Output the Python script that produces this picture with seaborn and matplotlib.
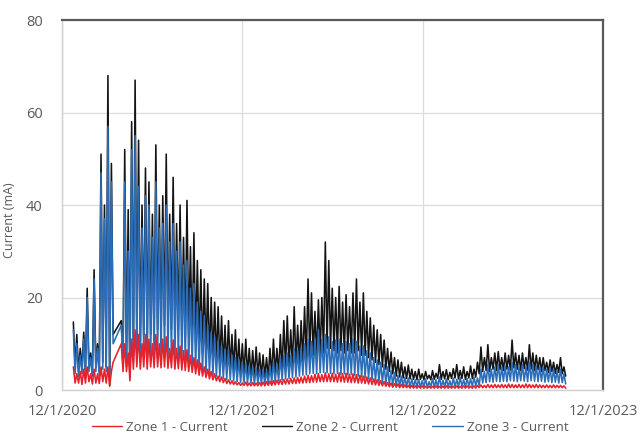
import numpy as np
import pandas as pd
import matplotlib
matplotlib.use("Agg")
import matplotlib.pyplot as plt
import seaborn as sns

# ---- data: weekly peak / trough readings (mA) ----
# winter segment (weekly from 2020-12-24)
seg_a_start = "2020-12-24"
zone2_hi_a = [14.7, 12, 9, 12.5, 22, 8, 26, 10, 51, 40, 68, 49]
zone2_lo_a = [5, 4, 4.5, 4, 5, 3.5, 5, 4, 6, 5, 1, 12]
zone3_hi_a = [13, 10, 7.5, 11, 20, 7, 24, 9, 47, 37, 57, 45]
zone3_lo_a = [3.5, 3, 3.5, 3, 4, 3, 4, 3, 4.5, 4, 2, 10]
zone1_hi_a = [5, 3.5, 4, 4.5, 5, 3.5, 4.5, 3.5, 5, 4.5, 5, 4]
zone1_lo_a = [1.5, 1.5, 1.2, 1.5, 1.8, 1.3, 1.5, 1.4, 1.8, 1.5, 0.8, 6]

# main segment (weekly from 2021-03-31)
seg_b_start = "2021-03-31"
zone2_hi_b = [15, 52, 39, 58, 67, 54, 40, 48, 45, 38,
              53, 40, 42, 51, 38, 46, 36, 40, 33, 41,
              31, 34, 28, 26, 24, 23, 20, 19, 18, 16,
              14, 15, 12, 13, 11, 10, 11, 9, 8.5, 9.3,
              8, 7.6, 7, 9, 11, 9, 12, 15, 16, 13,
              18, 14, 15, 18, 24, 21, 17, 19.5, 20, 32,
              28, 22, 20, 22.4, 19, 20.6, 18, 21, 24, 19,
              21, 17, 15.6, 14, 13, 12, 10.8, 9, 8.2, 7,
              6.5, 6, 5, 5.4, 4.5, 4, 4.5, 3.5, 4, 3.2,
              4.2, 3.6, 5.5, 4, 4.4, 3.8, 4.6, 5.5, 4.2, 5,
              4, 5.2, 4.5, 6, 9.3, 7, 9.8, 7, 8, 8.3,
              7, 8, 7.5, 10.8, 8, 7.5, 8, 7, 9.8, 8,
              7.5, 7, 7, 6, 6.5, 6, 5.5, 7, 5]
zone2_lo_b = [6, 6, 3, 8, 10, 9, 12, 10, 12, 11,
              13, 12, 14, 12, 13, 12, 13, 12, 11, 12,
              10, 10, 9, 8, 8, 7, 6.5, 6, 5.5, 5,
              4.5, 4.5, 4, 4, 3.5, 3.5, 3.2, 3, 3, 3,
              2.8, 2.8, 2.6, 3, 3.5, 3.5, 4, 4.5, 5, 5,
              5.5, 5.5, 6, 6.5, 7, 7.5, 7, 7.5, 8, 9,
              9, 8.5, 8, 8.5, 8, 8.5, 8, 8, 8.5, 7.5,
              7.5, 7, 6.5, 6, 5.5, 5, 4.5, 4, 3.5, 3,
              2.8, 2.6, 2.5, 2.4, 2.3, 2.2, 2.3, 2.2, 2.4, 2.2,
              2.3, 2.5, 2.3, 2.4, 2.2, 2.5, 2.6, 2.4, 2.5, 2.3,
              2.6, 2.5, 2.8, 3.5, 4, 4.2, 4, 4.5, 4.2, 4.4,
              4.2, 4.5, 4.3, 4.8, 4.5, 4.2, 4.6, 4.3, 4.5, 4.2,
              4.4, 4, 4.2, 3.8, 4, 3.6, 3.8, 3.5, 3]
zone3_hi_b = [14, 45, 30, 52, 55, 44, 35, 42, 40, 33,
              45, 35, 36, 40, 32, 36, 30, 32, 27, 28,
              22, 23, 19, 17, 16, 14, 12.5, 11.5, 10.5, 9.5,
              8.7, 8.7, 7.5, 7, 6.5, 6, 5.8, 5.2, 5, 4.8,
              4.5, 4.3, 4.2, 5, 6, 5.5, 7, 7.5, 8, 7.5,
              9, 8.5, 9, 10, 11, 10.5, 11, 13, 11, 12,
              11.5, 10.5, 10.8, 11, 10, 10.5, 10, 11, 10.5, 9.5,
              9.5, 8.5, 8, 7, 6.5, 6, 5.5, 5, 4.2, 3.8,
              3.2, 3, 2.8, 2.6, 2.4, 2.2, 2.3, 2, 2.4, 1.8,
              2.5, 2.2, 2.8, 2.1, 2.4, 2, 2.6, 2.3, 2.7, 2.2,
              2.5, 2.4, 2.8, 2.6, 4.5, 4, 5.5, 4.5, 5, 5.5,
              5, 5.2, 5, 6, 5.5, 5, 5.5, 5, 6, 5.5,
              5.2, 5, 5, 4.5, 4.8, 4.5, 4.2, 4.5, 3.5]
zone3_lo_b = [5, 5, 2.5, 6, 7, 6, 7, 6.5, 7, 6.5,
              7, 6.5, 7, 6.5, 6.5, 6, 6, 5.5, 5.5, 5,
              5, 4.5, 4.2, 4, 3.8, 3.5, 3.2, 3, 2.8, 2.5,
              2.3, 2.2, 2, 1.8, 1.7, 1.6, 1.5, 1.5, 1.4, 1.4,
              1.4, 1.3, 1.4, 1.6, 1.8, 2, 2.2, 2.4, 2.5, 2.7,
              2.8, 3, 3.2, 3.3, 3.5, 3.6, 3.5, 3.7, 3.8, 3.7,
              3.6, 3.5, 3.6, 3.4, 3.5, 3.3, 3.4, 3.2, 3, 2.8,
              2.6, 2.4, 2.2, 2, 1.8, 1.6, 1.4, 1.2, 1.1, 1,
              0.9, 0.8, 0.8, 0.7, 0.7, 0.7, 0.6, 0.7, 0.6, 0.7,
              0.6, 0.7, 0.6, 0.7, 0.7, 0.6, 0.7, 0.7, 0.8, 0.7,
              0.8, 0.8, 0.9, 1, 1.5, 1.6, 1.8, 1.7, 1.9, 1.8,
              1.9, 1.8, 2, 1.9, 1.8, 2, 1.9, 1.8, 2, 1.9,
              1.8, 1.9, 1.7, 1.8, 1.6, 1.7, 1.5, 1.6, 1.3]
zone1_hi_b = [10, 10, 8, 11, 13, 12, 10, 12, 11, 10,
              12, 10, 11, 11.5, 9, 10.8, 9, 9.5, 8.5, 8.7,
              7.5, 7, 6.5, 5.8, 5, 4.5, 4, 3.5, 3, 2.8,
              2.5, 2.2, 2, 1.8, 1.6, 1.5, 1.7, 1.5, 1.6, 1.5,
              1.6, 1.7, 1.8, 1.9, 2, 2.1, 2.2, 2.3, 2.4, 2.5,
              2.6, 2.7, 2.8, 3, 3.2, 3.1, 3.4, 3.5, 3.3, 3.7,
              3.5, 3.6, 3.4, 3.7, 3.5, 3.6, 3.4, 3.5, 3.3, 3.2,
              3, 2.8, 2.6, 2.4, 2.2, 2, 1.8, 1.6, 1.5, 1.4,
              1.3, 1.2, 1.1, 1, 1, 0.9, 0.9, 0.9, 0.8, 0.8,
              0.8, 0.9, 0.8, 0.8, 0.9, 0.8, 0.8, 0.9, 0.8, 0.9,
              0.9, 0.8, 0.9, 1, 1.1, 1, 1.2, 1.1, 1.2, 1.1,
              1.2, 1.1, 1.3, 1.2, 1.1, 1.2, 1.1, 1.3, 1.2, 1.1,
              1.2, 1.1, 1, 1.1, 1, 1.1, 1, 1, 0.9]
zone1_lo_b = [4, 4, 2, 4.5, 5, 4.5, 5, 4.5, 5, 4.8,
              5, 4.8, 5, 4.7, 4.8, 4.5, 4.6, 4.3, 4.2, 4,
              3.8, 3.5, 3.2, 3, 2.7, 2.4, 2.2, 2, 1.8, 1.6,
              1.4, 1.3, 1.2, 1.1, 1, 1, 0.9, 0.9, 0.9, 0.9,
              0.9, 0.9, 1, 1, 1.1, 1.2, 1.2, 1.3, 1.3, 1.4,
              1.4, 1.5, 1.5, 1.6, 1.6, 1.7, 1.7, 1.8, 1.8, 1.8,
              1.8, 1.8, 1.7, 1.8, 1.7, 1.7, 1.6, 1.6, 1.5, 1.5,
              1.4, 1.3, 1.2, 1.1, 1, 0.9, 0.8, 0.7, 0.6, 0.6,
              0.5, 0.5, 0.5, 0.4, 0.4, 0.4, 0.4, 0.4, 0.4, 0.4,
              0.4, 0.4, 0.4, 0.4, 0.4, 0.4, 0.4, 0.4, 0.4, 0.4,
              0.4, 0.4, 0.4, 0.5, 0.5, 0.5, 0.5, 0.5, 0.5, 0.5,
              0.5, 0.5, 0.5, 0.5, 0.5, 0.5, 0.5, 0.5, 0.5, 0.5,
              0.5, 0.5, 0.5, 0.5, 0.5, 0.5, 0.5, 0.5, 0.4]

zones = ["Zone 1 - Current", "Zone 2 - Current", "Zone 3 - Current"]
zone_colors = ["#e8202a", "#141414", "#2b6db8"]
tick_dates = ["2020-12-01", "2021-12-01", "2022-12-01", "2023-12-01"]
tick_labels = ["12/1/2020", "12/1/2021", "12/1/2022", "12/1/2023"]
y_ticks = [0, 20, 40, 60, 80]


def weekly_trace(start, hi, lo):
    """Peak at the start of each week, trough half a week later."""
    weeks = pd.date_range(start, periods=len(hi), freq="7D")
    t, v = [], []
    for d, h, l in zip(weeks, hi, lo):
        t += [d, d + pd.Timedelta(hours=84)]
        v += [h, l]
    return t, v


series = {
    zones[0]: [(seg_a_start, zone1_hi_a, zone1_lo_a), (seg_b_start, zone1_hi_b, zone1_lo_b)],
    zones[1]: [(seg_a_start, zone2_hi_a, zone2_lo_a), (seg_b_start, zone2_hi_b, zone2_lo_b)],
    zones[2]: [(seg_a_start, zone3_hi_a, zone3_lo_a), (seg_b_start, zone3_hi_b, zone3_lo_b)],
}
rows = []
for name, parts in series.items():
    for start, hi, lo in parts:
        t, v = weekly_trace(start, hi, lo)
        rows += [{"date": a, "current": b, "zone": name} for a, b in zip(t, v)]
df = pd.DataFrame(rows)

sns.set_style("white")
plt.rcParams["font.family"] = ["Open Sans", "DejaVu Sans"]

fig = plt.figure(figsize=(6.41, 4.33), dpi=100)
ax = fig.add_axes([0.0967, 0.0993, 0.8440, 0.8545])

sns.lineplot(data=df, x="date", y="current", hue="zone", hue_order=zones,
             palette=zone_colors, estimator=None, sort=False, linewidth=1.15,
             ax=ax, legend=True)

# draw zone 2 underneath, then zone 3, with zone 1 on top
for line, z in zip(ax.lines[:3], [5, 3, 4]):
    line.set_zorder(z)

ax.set_xlim(pd.Timestamp(tick_dates[0]), pd.Timestamp(tick_dates[-1]))
ax.set_ylim(0, 80)
ax.set_xticks(pd.to_datetime(tick_dates))
ax.set_xticklabels(tick_labels)
ax.set_yticks(y_ticks)
ax.tick_params(axis="both", length=0, labelsize=10.5, colors="#595959")
ax.tick_params(axis="x", pad=10)
ax.tick_params(axis="y", pad=14)
ax.grid(True, color="#dcdcdc", linewidth=0.9)
ax.set_axisbelow(True)

ax.set_xlabel("")
ax.set_ylabel("Current (mA)", fontsize=9, color="#595959")
ax.yaxis.set_label_coords(-0.085, 0.46)

for side in ["top", "right"]:
    ax.spines[side].set_color("#5a5a5a")
    ax.spines[side].set_linewidth(1.6)
for side in ["left", "bottom"]:
    ax.spines[side].set_color("#d0d0d0")
    ax.spines[side].set_linewidth(1.0)

handles, labels = ax.get_legend_handles_labels()
ax.get_legend().remove()
for h in handles:
    h.set_linewidth(1.0)
fig.legend(handles, labels, loc="lower center", bbox_to_anchor=(0.515, -0.03),
           ncol=3, frameon=False, fontsize=9.5, labelcolor="#595959",
           handlelength=2.3, handletextpad=0.3, columnspacing=2.6)

fig.savefig("out.png", dpi=100)
